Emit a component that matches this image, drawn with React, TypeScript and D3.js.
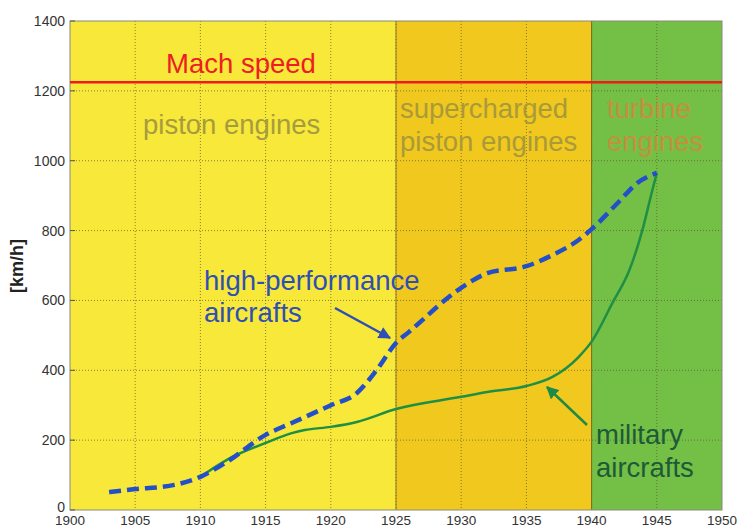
import React from "react";
import * as d3 from "d3";

const W = 737;
const H = 528;
const M = { left: 70, right: 15, top: 21, bottom: 18 };

const xTicks = [1900, 1905, 1910, 1915, 1920, 1925, 1930, 1935, 1940, 1945, 1950];
const yTicks = [0, 200, 400, 600, 800, 1000, 1200, 1400];

const eras = [
  { start: 1900, end: 1925, color: "#f7e83a" },
  { start: 1925, end: 1940, color: "#f1c81e" },
  { start: 1940, end: 1950, color: "#74bf46" },
];

const machSpeed = 1225;

const highPerfYears = [1903, 1905, 1907, 1908, 1910, 1912, 1915, 1917, 1920, 1922, 1923.5, 1925, 1926, 1930, 1932, 1935, 1937, 1939, 1940, 1942, 1943.5, 1945];
const highPerfValues = [51, 60, 66, 72, 95, 137, 215, 249, 300, 335, 400, 478, 510, 636, 678, 698, 730, 773, 804, 879, 936, 965];

const militaryYears = [1910, 1912, 1915, 1917, 1918, 1920, 1922, 1925, 1930, 1932, 1935, 1937, 1939, 1940, 1941.6, 1942.9, 1943.9, 1944.6, 1945];
const militaryValues = [95, 143, 192, 220, 229, 238, 252, 289, 324, 338, 355, 381, 438, 482, 593, 687, 802, 907, 965];

export default function App() {
  const x = d3.scaleLinear().domain([1900, 1950]).range([M.left, W - M.right]);
  const y = d3.scaleLinear().domain([0, 1400]).range([H - M.bottom, M.top]);

  const line = d3
    .line<[number, number]>()
    .x((d) => x(d[0]))
    .y((d) => y(d[1]))
    .curve(d3.curveMonotoneX);

  const hp: [number, number][] = highPerfYears.map((yr, i) => [yr, highPerfValues[i]]);
  const mil: [number, number][] = militaryYears.map((yr, i) => [yr, militaryValues[i]]);

  const x0 = x(1900), x1 = x(1950), y0 = y(0), y1 = y(1400);
  const font = "'Liberation Sans', Arial, sans-serif";

  return (
    <svg width={W} height={H} style={{ position: "absolute", left: 0, top: 0, background: "#fff" }}>
      <defs>
        <marker id="arrBlue" viewBox="0 0 10 10" refX="9" refY="5" markerWidth="5" markerHeight="5" orient="auto">
          <path d="M0,0 L10,5 L0,10 z" fill="#2f4fb5" />
        </marker>
        <marker id="arrGreen" viewBox="0 0 10 10" refX="9" refY="5" markerWidth="5" markerHeight="5" orient="auto">
          <path d="M0,0 L10,5 L0,10 z" fill="#1f8a45" />
        </marker>
      </defs>
      {eras.map((e) => (
        <rect key={e.start} x={x(e.start)} y={y1} width={x(e.end) - x(e.start)} height={y0 - y1} fill={e.color} />
      ))}
      {xTicks.slice(1, -1).map((t) => (
        <line key={"gx" + t} x1={x(t)} x2={x(t)} y1={y1} y2={y0} stroke="#5a5530" strokeOpacity={0.7} strokeWidth={1} strokeDasharray="1,2" />
      ))}
      {yTicks.slice(1, -1).map((t) => (
        <line key={"gy" + t} x1={x0} x2={x1} y1={y(t)} y2={y(t)} stroke="#5a5530" strokeOpacity={0.7} strokeWidth={1} strokeDasharray="1,2" />
      ))}
      <line x1={x(1925)} x2={x(1925)} y1={y1} y2={y0} stroke="#8a7828" strokeWidth={1} />
      <line x1={x(1940)} x2={x(1940)} y1={y1} y2={y0} stroke="#7a6a20" strokeWidth={1} />
      <rect x={x0} y={y1} width={x1 - x0} height={y0 - y1} fill="none" stroke="#8a8a7a" strokeWidth={1} />
      {yTicks.map((t) => (
        <g key={"yt" + t}>
          <line x1={x0} x2={x0 + 5} y1={y(t)} y2={y(t)} stroke="#555" />
          <text x={x0 - 5} y={t === 0 ? y(t) + 2 : y(t) + 5} textAnchor="end" fontSize={14} fill="#333" fontFamily={font}>{t}</text>
        </g>
      ))}
      {xTicks.map((t) => (
        <text key={"xt" + t} x={x(t)} y={H - 3} textAnchor="middle" fontSize={13.5} fill="#333" fontFamily={font}>{t}</text>
      ))}
      <text transform="translate(23,266) rotate(-90)" textAnchor="middle" fontSize={18} fontWeight="bold" fill="#222" fontFamily={font}>[km/h]</text>
      <line x1={x0} x2={x1} y1={y(machSpeed)} y2={y(machSpeed)} stroke="#ee1c1c" strokeWidth={2.5} />
      <text x={166} y={73} fontSize={27.5} fill="#ee1c24" fontFamily={font}>Mach speed</text>
      <text x={143} y={134} fontSize={27.5} fill="#a69c3e" fontFamily={font}>piston engines</text>
      <text x={400} y={118} fontSize={27.5} fill="#a99a3a" fontFamily={font}>supercharged</text>
      <text x={400} y={151} fontSize={27.5} fill="#a99a3a" fontFamily={font}>piston engines</text>
      <text x={607} y={118} fontSize={27.5} fill="#c4903e" fontFamily={font}>turbine</text>
      <text x={607} y={151} fontSize={27.5} fill="#c4903e" fontFamily={font}>engines</text>
      <path d={line(mil) || ""} fill="none" stroke="#1f8f45" strokeWidth={2.5} />
      <path d={line(hp) || ""} fill="none" stroke="#2350c8" strokeWidth={4.5} strokeDasharray="12,6" />
      <text x={204} y={290} fontSize={27.5} fill="#2f4fb5" fontFamily={font}>high-performance</text>
      <text x={204} y={322} fontSize={27.5} fill="#2f4fb5" fontFamily={font}>aircrafts</text>
      <line x1={335} y1={308} x2={390} y2={338} stroke="#2f4fb5" strokeWidth={2.5} markerEnd="url(#arrBlue)" />
      <text x={596} y={444} fontSize={27.5} fill="#1d5a38" fontFamily={font}>military</text>
      <text x={596} y={477} fontSize={27.5} fill="#1d5a38" fontFamily={font}>aircrafts</text>
      <line x1={587} y1={425} x2={547} y2={387} stroke="#1f8a45" strokeWidth={2.5} markerEnd="url(#arrGreen)" />
    </svg>
  );
}
